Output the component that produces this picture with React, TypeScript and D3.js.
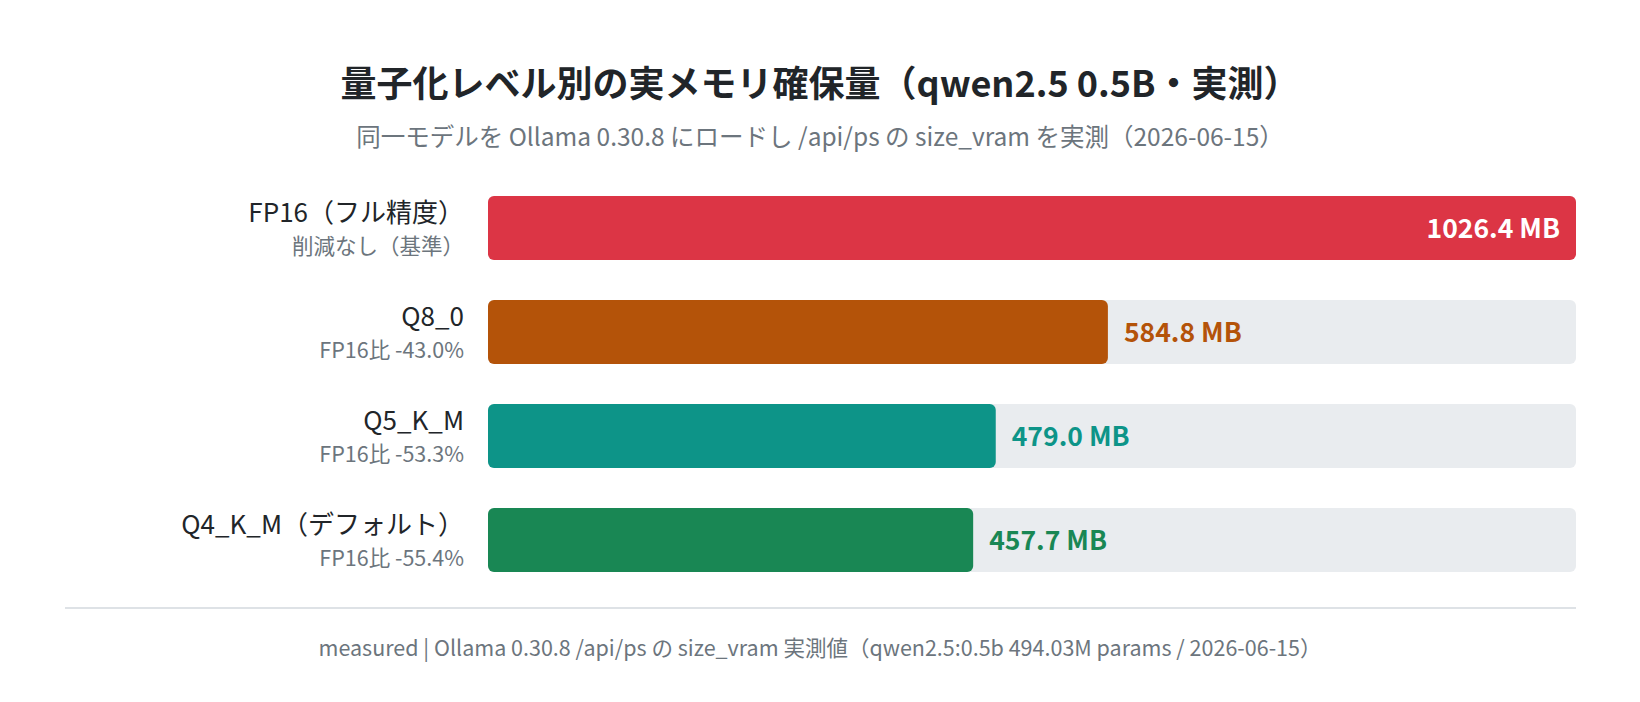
import { useMemo } from "react";
import * as d3 from "d3";

// Quantization levels (top to bottom) and measured size_vram in MB
const LEVELS = ["FP16（フル精度）", "Q8_0", "Q5_K_M", "Q4_K_M（デフォルト）"];
const SUB_LABELS = ["削減なし（基準）", "FP16比 -43.0%", "FP16比 -53.3%", "FP16比 -55.4%"];
const VRAM_MB = [1026.4, 584.8, 479.0, 457.7];
const BAR_COLORS = ["#dc3545", "#b45309", "#0d9488", "#198754"];

const TITLE = "量子化レベル別の実メモリ確保量（qwen2.5 0.5B・実測）";
const SUBTITLE = "同一モデルを Ollama 0.30.8 にロードし /api/ps の size_vram を実測（2026-06-15）";
const FOOTER =
  "measured | Ollama 0.30.8 /api/ps の size_vram 実測値（qwen2.5:0.5b 494.03M params / 2026-06-15）";

const FONT = "'Noto Sans CJK JP', 'Noto Sans', sans-serif";

export default function App() {
  const width = 1640;
  const height = 702;
  const plot = { left: 488, right: 1576, top: 196, bottom: 572 };

  const x = useMemo(
    () => d3.scaleLinear().domain([0, d3.max(VRAM_MB) as number]).range([plot.left, plot.right]),
    [],
  );
  const y = useMemo(
    () => d3.scaleBand<string>().domain(LEVELS).range([plot.top, plot.bottom]).paddingInner(40 / 104),
    [],
  );
  const bw = y.bandwidth();

  return (
    <svg
      width={width}
      height={height}
      style={{ position: "fixed", left: 0, top: 0, background: "#fff" }}
      fontFamily={FONT}
    >
      <rect width={width} height={height} fill="#fff" />

      {/* Title + subtitle */}
      <text x={820} y={97} textAnchor="middle" fontSize={36} fontWeight={700} fill="#212529">
        {TITLE}
      </text>
      <text x={820} y={146} textAnchor="middle" fontSize={24.5} fill="#6c757d">
        {SUBTITLE}
      </text>

      {LEVELS.map((lv, i) => {
        const y0 = y(lv) as number;
        const cy = y0 + bw / 2;
        const v = VRAM_MB[i];
        const inside = x(v) > plot.right - 140;
        return (
          <g key={lv}>
            {/* track */}
            <rect x={plot.left} y={y0} width={plot.right - plot.left} height={bw} rx={6} fill="#e9ecef" />
            {/* bar */}
            <rect x={plot.left} y={y0} width={x(v) - plot.left} height={bw} rx={6} fill={BAR_COLORS[i]} />

            {/* row labels */}
            <text x={464} y={cy - 6} textAnchor="end" fontSize={26} fill="#212529">
              {lv}
            </text>
            <text x={464} y={cy + 26} textAnchor="end" fontSize={21.5} fill="#6c757d">
              {SUB_LABELS[i]}
            </text>

            {/* value label */}
            <text
              x={inside ? x(v) - 16 : x(v) + 16}
              y={cy + 9.5}
              textAnchor={inside ? "end" : "start"}
              fontSize={26.5}
              fontWeight={700}
              fill={inside ? "#fff" : BAR_COLORS[i]}
            >
              {v.toFixed(1)} MB
            </text>
          </g>
        );
      })}

      {/* divider + footer */}
      <line x1={65} x2={1576} y1={608} y2={608} stroke="#dee2e6" strokeWidth={2} />
      <text x={820} y={656} textAnchor="middle" fontSize={21.5} fill="#6c757d">
        {FOOTER}
      </text>
    </svg>
  );
}
